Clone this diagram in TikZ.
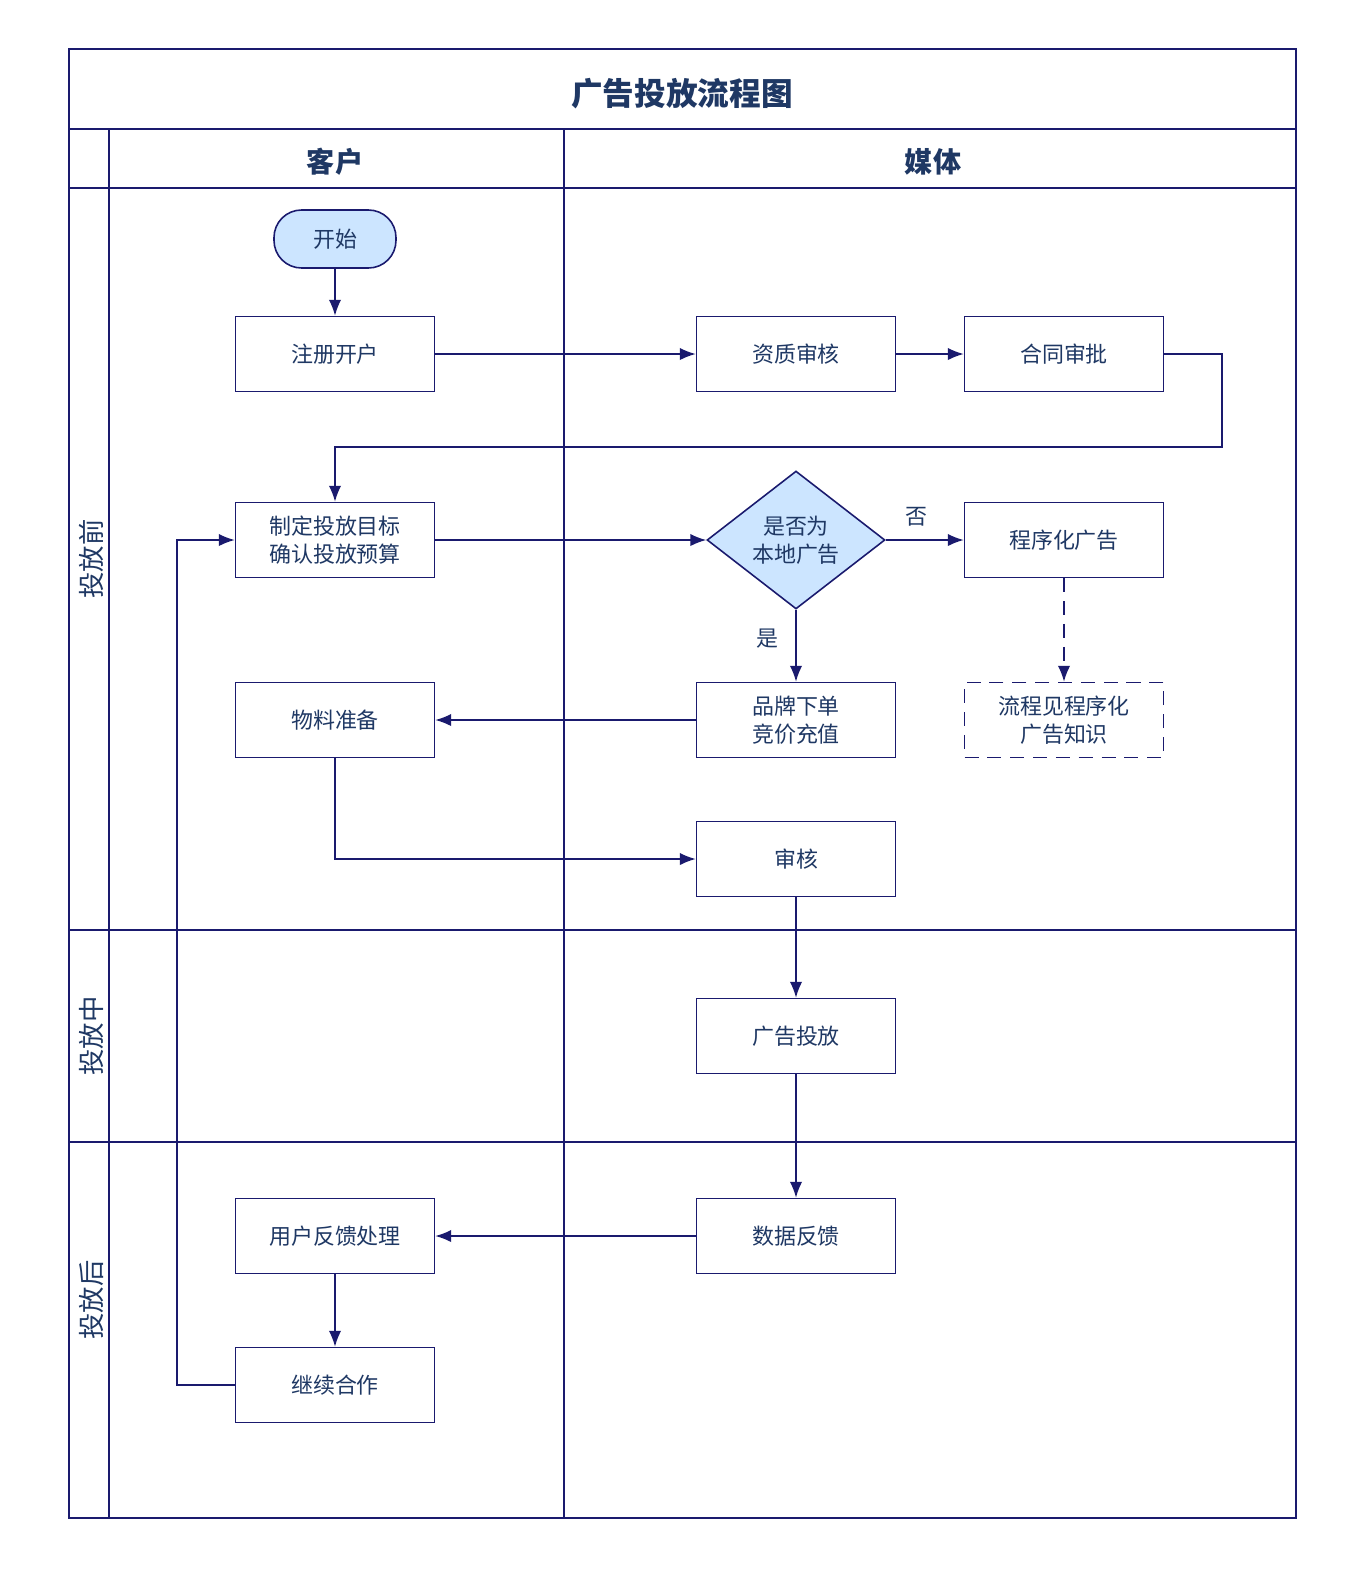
\documentclass[tikz,border=0pt]{standalone}
\usepackage{fontspec}
\setmainfont{Noto Sans CJK SC}
\usetikzlibrary{shapes.geometric,arrows.meta}
\definecolor{ln}{HTML}{1A1A6E}
\definecolor{tx}{HTML}{1F3864}
\definecolor{fl}{HTML}{CCE5FF}
\begin{document}
\begin{tikzpicture}[x=0.02cm,y=-0.02cm,
  box/.style={draw=ln,line width=0.9pt,minimum width=3.98cm,minimum height=1.5cm,align=center,text=tx,font=\fontsize{12.5}{16}\selectfont},
  arr/.style={draw=ln,line width=0.9pt,-{Latex[length=9pt,width=7pt]}},
  ln/.style={draw=ln,line width=0.9pt},
  longdash/.style={dash pattern=on 8pt off 5pt}]
\useasboundingbox (0,0) rectangle (1356,1580);
\fill[white] (0,0) rectangle (1356,1580);
\draw[ln] (69,49) rectangle (1296,1518);
\draw[ln] (69,129) -- (1296,129);
\draw[ln] (109,188) -- (1296,188);
\draw[ln] (109,129) -- (109,1518);
\draw[ln] (564,129) -- (564,1518);
\draw[ln] (69,188) -- (109,188);
\draw[ln] (69,930) -- (1296,930);
\draw[ln] (69,1142) -- (1296,1142);
\node[text=tx,font=\fontsize{18}{20}\selectfont\bfseries] (title) at (682,94) {广告投放流程图};
\node[text=tx,font=\fontsize{16}{20}\selectfont\bfseries] (hk) at (335,162) {客户};
\node[text=tx,font=\fontsize{16}{20}\selectfont\bfseries] (hm) at (933,162) {媒体};
\node[text=tx,rotate=90,font=\fontsize{15}{20}\selectfont] (l1) at (91,559) {投放前};
\node[text=tx,rotate=90,font=\fontsize{15}{20}\selectfont] (l2) at (91,1036) {投放中};
\node[text=tx,rotate=90,font=\fontsize{15}{20}\selectfont] (l3) at (91,1300) {投放后};

\node[box,rounded corners=0.55cm,fill=fl,minimum width=2.44cm,minimum height=1.16cm] (s) at (335,239) {开始};
\node[box] (zc) at (335,354) {注册开户};
\node[box] (zz) at (796,354) {资质审核};
\node[box] (ht) at (1064,354) {合同审批};
\node[box] (zd) at (335,540) {制定投放目标\\确认投放预算};
\node[box,diamond,aspect=1.29,fill=fl,minimum width=3.56cm,minimum height=2.76cm,inner sep=0pt] (dm) at (796,540) {是否为\\本地广告};
\node[box] (cx) at (1064,540) {程序化广告};
\node[box] (wl) at (335,720) {物料准备};
\node[box] (pp) at (796,720) {品牌下单\\竞价充值};
\node[box,longdash] (lc) at (1064,720) {流程见程序化\\广告知识};
\node[box] (sh) at (796,859) {审核};
\node[box] (gg) at (796,1036) {广告投放};
\node[box] (sj) at (796,1236) {数据反馈};
\node[box] (yh) at (335,1236) {用户反馈处理};
\node[box] (jx) at (335,1385) {继续合作};

\draw[arr] (s) -- (zc);
\draw[arr] (zc) -- (zz);
\draw[arr] (zz) -- (ht);
\draw[arr] (ht.east) -- (1222,354) -- (1222,447) -- (335,447) -- (zd.north);
\draw[arr] (zd) -- (dm);
\draw[arr] (dm) -- node[pos=0.4,above,text=tx,font=\fontsize{12.5}{16}\selectfont,yshift=4pt] {否} (cx);
\draw[arr] (dm) -- node[pos=0.4,left,text=tx,font=\fontsize{12.5}{16}\selectfont,xshift=-6pt] {是} (pp);
\draw[arr,longdash] (cx) -- (lc);
\draw[arr] (pp) -- (wl);
\draw[arr] (wl.south) -- (335,859) -- (sh.west);
\draw[arr] (sh) -- (gg);
\draw[arr] (gg) -- (sj);
\draw[arr] (sj) -- (yh);
\draw[arr] (yh) -- (jx);
\draw[arr] (jx.west) -- (177,1385) -- (177,540) -- (zd.west);
\end{tikzpicture}
\end{document}
